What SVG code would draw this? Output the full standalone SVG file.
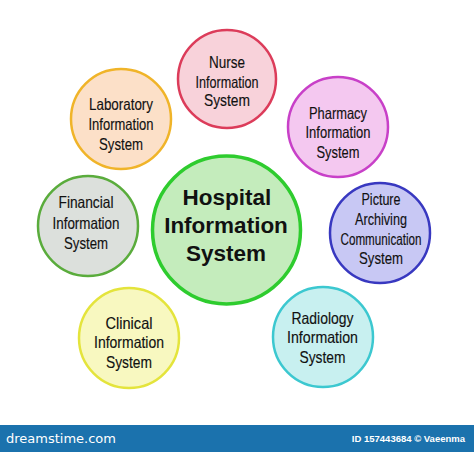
<svg xmlns="http://www.w3.org/2000/svg" width="474" height="452" viewBox="0 0 474 452">
<style>
.sat{stroke-width:2.5}
.t{font-family:"Liberation Sans",Arial,sans-serif;font-size:16.5px;fill:#111;text-anchor:middle;stroke:#111;stroke-width:0.15}
.c{font-family:"Liberation Sans",Arial,sans-serif;font-size:22.5px;font-weight:bold;fill:#111;text-anchor:middle}
</style>
<rect width="474" height="452" fill="#fff"/>
<g id="connectors"></g>
<g id="nurse">
<circle class="sat" cx="227" cy="79" r="49" fill="#f8d2da" stroke="#dc3c5a"/>
<text class="t" x="227" y="68" textLength="36" lengthAdjust="spacingAndGlyphs">Nurse</text>
<text class="t" x="227" y="87.5" textLength="63" lengthAdjust="spacingAndGlyphs">Information</text>
<text class="t" x="227" y="106" textLength="46" lengthAdjust="spacingAndGlyphs">System</text>
</g>
<g id="laboratory">
<circle class="sat" cx="121" cy="119" r="50" fill="#fce0c8" stroke="#f0b429"/>
<text class="t" x="121" y="110" textLength="64" lengthAdjust="spacingAndGlyphs">Laboratory</text>
<text class="t" x="121" y="130" textLength="65" lengthAdjust="spacingAndGlyphs">Information</text>
<text class="t" x="121" y="149.5" textLength="44" lengthAdjust="spacingAndGlyphs">System</text>
</g>
<g id="pharmacy">
<circle class="sat" cx="338" cy="127" r="50" fill="#f4c8f0" stroke="#c840c8"/>
<text class="t" x="338" y="118.5" textLength="58" lengthAdjust="spacingAndGlyphs">Pharmacy</text>
<text class="t" x="338" y="138" textLength="65" lengthAdjust="spacingAndGlyphs">Information</text>
<text class="t" x="338" y="158" textLength="43" lengthAdjust="spacingAndGlyphs">System</text>
</g>
<g id="pacs">
<circle class="sat" cx="380" cy="233" r="50" fill="#c8c8f4" stroke="#3838c0"/>
<text class="t" x="381" y="205" textLength="39" lengthAdjust="spacingAndGlyphs">Picture</text>
<text class="t" x="381" y="225" textLength="52" lengthAdjust="spacingAndGlyphs">Archiving</text>
<text class="t" x="381" y="245" textLength="81" lengthAdjust="spacingAndGlyphs">Communication</text>
<text class="t" x="381" y="264" textLength="44" lengthAdjust="spacingAndGlyphs">System</text>
</g>
<g id="financial">
<circle class="sat" cx="88" cy="226" r="50" fill="#dce0dc" stroke="#5aac3c"/>
<text class="t" x="86" y="208" textLength="55" lengthAdjust="spacingAndGlyphs">Financial</text>
<text class="t" x="86" y="229" textLength="67" lengthAdjust="spacingAndGlyphs">Information</text>
<text class="t" x="86" y="249" textLength="44" lengthAdjust="spacingAndGlyphs">System</text>
</g>
<g id="clinical">
<circle class="sat" cx="129" cy="338" r="50" fill="#f8f8c0" stroke="#e4e43c"/>
<text class="t" x="129" y="328.5" textLength="47" lengthAdjust="spacingAndGlyphs">Clinical</text>
<text class="t" x="129" y="348" textLength="70" lengthAdjust="spacingAndGlyphs">Information</text>
<text class="t" x="129" y="367.5" textLength="46" lengthAdjust="spacingAndGlyphs">System</text>
</g>
<g id="radiology">
<circle class="sat" cx="323" cy="337" r="50" fill="#c8f0f0" stroke="#3cc8d0"/>
<text class="t" x="322.5" y="323.5" textLength="62" lengthAdjust="spacingAndGlyphs">Radiology</text>
<text class="t" x="322.5" y="343" textLength="71" lengthAdjust="spacingAndGlyphs">Information</text>
<text class="t" x="322.5" y="362.5" textLength="46" lengthAdjust="spacingAndGlyphs">System</text>
</g>
<g id="hospital">
<circle cx="226.5" cy="230" r="74" fill="#c4ecbc" stroke="#2ecc2e" stroke-width="3.5"/>
<text class="c" x="227" y="205">Hospital</text>
<text class="c" x="226" y="233">Information</text>
<text class="c" x="226" y="261">System</text>
</g>
<g id="footer">
<rect x="0" y="425" width="474" height="27" fill="#1b72ad"/>
<text x="6" y="443" font-family="'DejaVu Sans',sans-serif" font-size="13" fill="#fff">dreamstime.com</text>
<text x="465" y="442" font-family="'Liberation Sans',Arial,sans-serif" font-size="9.5" font-weight="bold" fill="#fff" text-anchor="end">ID 157443684 © Vaeenma</text>
</g>
</svg>
